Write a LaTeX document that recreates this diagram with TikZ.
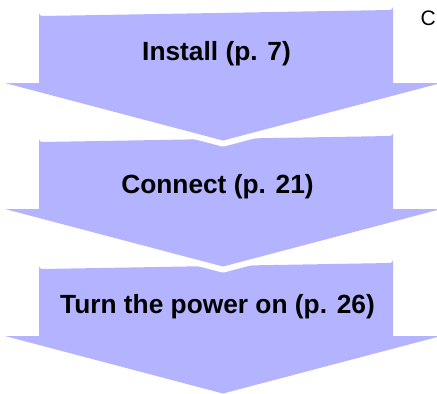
\documentclass[tikz,border=0pt]{standalone}
\usepackage{fontspec}
\setmainfont{Liberation Sans}
\definecolor{lav}{RGB}{179,179,255}
\tikzset{
  steparrow/.style={fill=lav, preaction={draw=white, line width=12pt, line join=round}},
  steplabel/.style={anchor=base, inner sep=0pt, font=\fontsize{26.3pt}{30pt}\selectfont\bfseries},
}
\begin{document}
\begin{tikzpicture}[x=1pt,y=-1pt]
\useasboundingbox (0,0) rectangle (437,394);
\begin{scope}
\clip (0,0) rectangle (437,394);
\foreach \t/\n in {263/c,136/b,10/a}{
  \path[steparrow] (39,\t+73) -- (39,\t+3) arc[start angle=180,end angle=90,radius=3] -- (390,\t) arc[start angle=90,end angle=0,radius=3] -- (393,\t+73) -- (441,\t+73) -- (223,\t+130.5) -- (5,\t+73) -- cycle;
}
\end{scope}
\node[steplabel] (a) at (216.5,60.7) {Install (p. 7)};
\node[steplabel] (b) at (217.5,193.3) {Connect (p. 21)};
\node[steplabel] (c) at (217.5,313) {Turn the power on (p. 26)};
\node[anchor=base west, inner sep=0pt, font=\fontsize{21pt}{24pt}\selectfont] (d) at (420.5,25) {C};
\end{tikzpicture}
\end{document}
